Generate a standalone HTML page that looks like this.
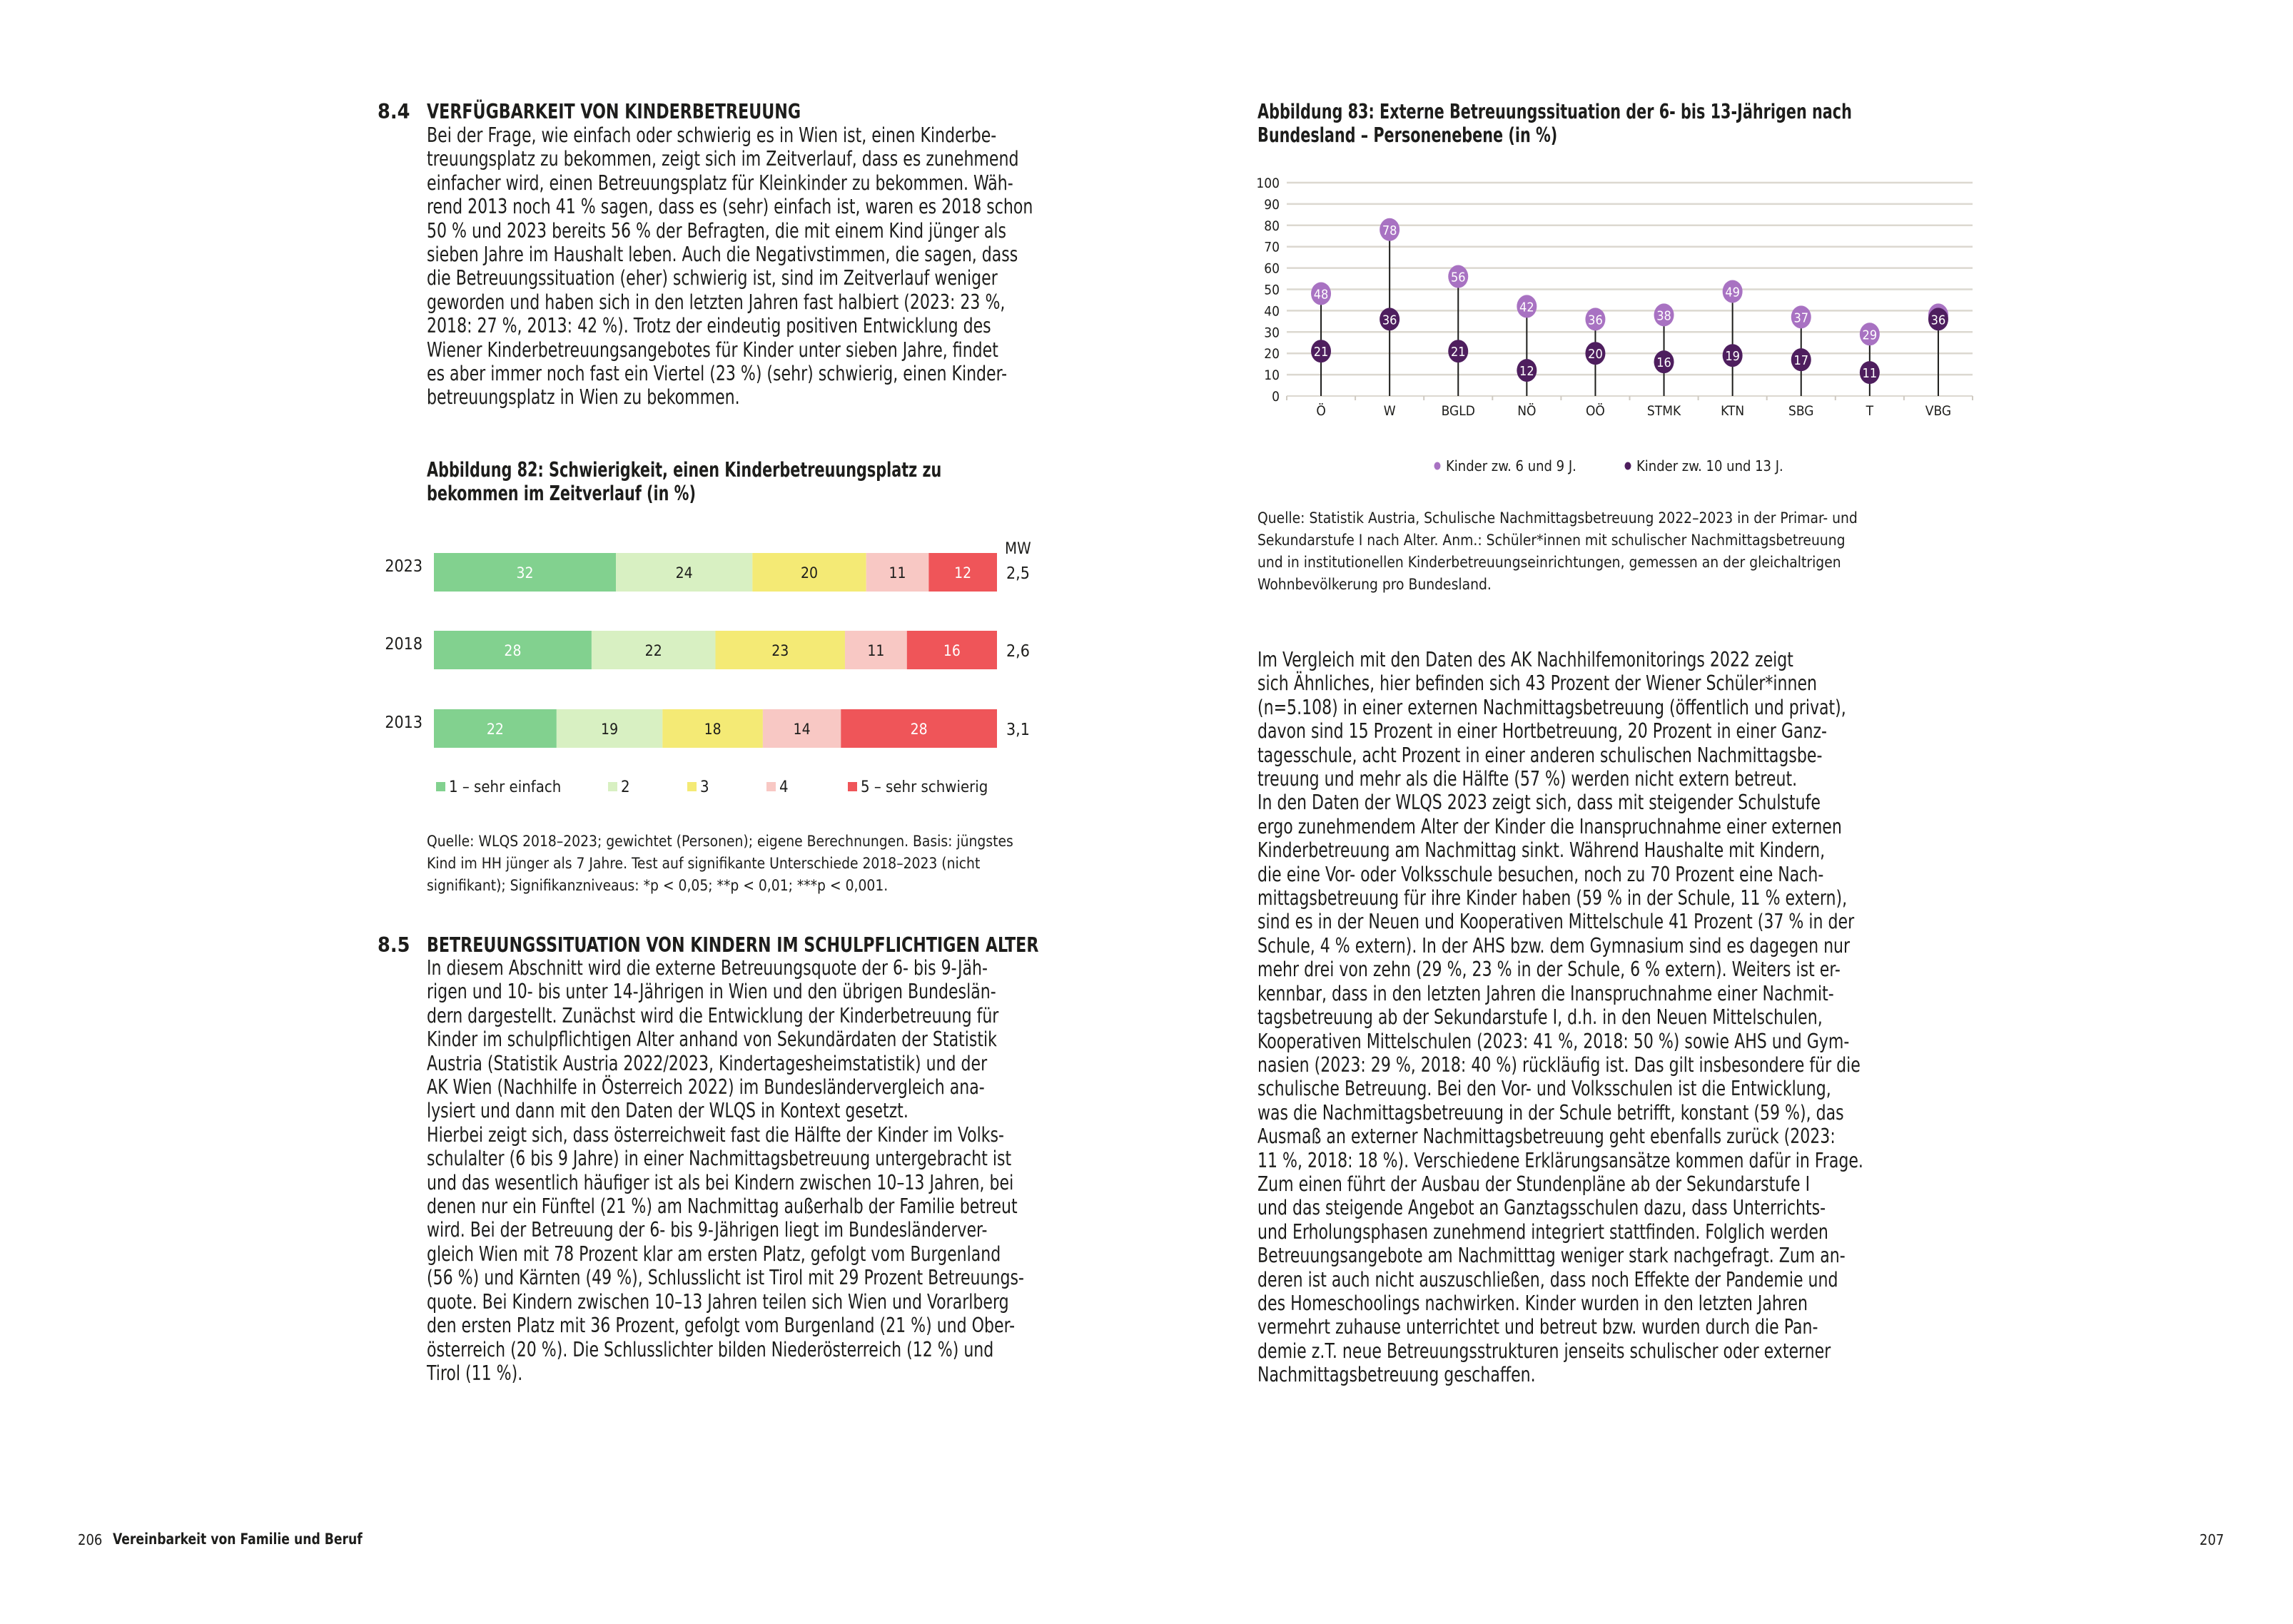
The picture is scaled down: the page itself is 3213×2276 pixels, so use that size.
<!DOCTYPE html>
<html><head><meta charset="utf-8">
<style>
html,body{margin:0;padding:0;background:#fff;}
#page{position:relative;width:3213px;height:2276px;overflow:hidden;background:#fff;font-family:"Liberation Sans Narrow","DejaVu Sans Condensed","Liberation Sans",sans-serif;color:#1d1d1b;}
.t{position:absolute;white-space:nowrap;transform-origin:0 0;}
.body{font-size:28.5px;line-height:33.4px;transform:scaleX(0.86);}
.body div{white-space:nowrap;}
.h{font-weight:bold;font-size:28.5px;}
.hs{transform:scaleX(0.865);}
.ft{transform:scaleX(0.81);}
.src{font-size:21.5px;line-height:31px;transform:scaleX(0.97);}
svg text{font-family:"Liberation Sans Narrow","DejaVu Sans Condensed","Liberation Sans",sans-serif;}
</style></head>
<body>
<div id="page">

<div class="t h" style="left:529px;top:140px;">8.4</div>
<div class="t h hs" style="left:598px;top:140px;">VERFÜGBARKEIT VON KINDERBETREUUNG</div>
<div class="t body" style="left:598px;top:173px;">
<div>Bei der Frage, wie einfach oder schwierig es in Wien ist, einen Kinderbe-</div>
<div>treuungsplatz zu bekommen, zeigt sich im Zeitverlauf, dass es zunehmend</div>
<div>einfacher wird, einen Betreuungsplatz für Kleinkinder zu bekommen. Wäh-</div>
<div>rend 2013 noch 41 % sagen, dass es (sehr) einfach ist, waren es 2018 schon</div>
<div>50 % und 2023 bereits 56 % der Befragten, die mit einem Kind jünger als</div>
<div>sieben Jahre im Haushalt leben. Auch die Negativstimmen, die sagen, dass</div>
<div>die Betreuungssituation (eher) schwierig ist, sind im Zeitverlauf weniger</div>
<div>geworden und haben sich in den letzten Jahren fast halbiert (2023: 23 %,</div>
<div>2018: 27 %, 2013: 42 %). Trotz der eindeutig positiven Entwicklung des</div>
<div>Wiener Kinderbetreuungsangebotes für Kinder unter sieben Jahre, findet</div>
<div>es aber immer noch fast ein Viertel (23 %) (sehr) schwierig, einen Kinder-</div>
<div>betreuungsplatz in Wien zu bekommen.</div>
</div>

<div class="t h ft" style="left:598px;top:642px;line-height:33px;">Abbildung 82: Schwierigkeit, einen Kinderbetreuungsplatz zu<br>bekommen im Zeitverlauf (in %)</div>

<div class="t src" style="left:598px;top:1164px;">Quelle: WLQS 2018–2023; gewichtet (Personen); eigene Berechnungen. Basis: jüngstes<br>Kind im HH jünger als 7 Jahre. Test auf signifikante Unterschiede 2018–2023 (nicht<br>signifikant); Signifikanzniveaus: *p &lt; 0,05; **p &lt; 0,01; ***p &lt; 0,001.</div>

<div class="t h" style="left:529px;top:1308px;">8.5</div>
<div class="t h hs" style="left:598px;top:1308px;">BETREUUNGSSITUATION VON KINDERN IM SCHULPFLICHTIGEN ALTER</div>
<div class="t body" style="left:598px;top:1340px;">
<div>In diesem Abschnitt wird die externe Betreuungsquote der 6- bis 9-Jäh-</div>
<div>rigen und 10- bis unter 14-Jährigen in Wien und den übrigen Bundeslän-</div>
<div>dern dargestellt. Zunächst wird die Entwicklung der Kinderbetreuung für</div>
<div>Kinder im schulpflichtigen Alter anhand von Sekundärdaten der Statistik</div>
<div>Austria (Statistik Austria 2022/2023, Kindertagesheimstatistik) und der</div>
<div>AK Wien (Nachhilfe in Österreich 2022) im Bundesländervergleich ana-</div>
<div>lysiert und dann mit den Daten der WLQS in Kontext gesetzt.</div>
<div>Hierbei zeigt sich, dass österreichweit fast die Hälfte der Kinder im Volks-</div>
<div>schulalter (6 bis 9 Jahre) in einer Nachmittagsbetreuung untergebracht ist</div>
<div>und das wesentlich häufiger ist als bei Kindern zwischen 10–13 Jahren, bei</div>
<div>denen nur ein Fünftel (21 %) am Nachmittag außerhalb der Familie betreut</div>
<div>wird. Bei der Betreuung der 6- bis 9-Jährigen liegt im Bundesländerver-</div>
<div>gleich Wien mit 78 Prozent klar am ersten Platz, gefolgt vom Burgenland</div>
<div>(56 %) und Kärnten (49 %), Schlusslicht ist Tirol mit 29 Prozent Betreuungs-</div>
<div>quote. Bei Kindern zwischen 10–13 Jahren teilen sich Wien und Vorarlberg</div>
<div>den ersten Platz mit 36 Prozent, gefolgt vom Burgenland (21 %) und Ober-</div>
<div>österreich (20 %). Die Schlusslichter bilden Niederösterreich (12 %) und</div>
<div>Tirol (11 %).</div>
</div>

<div class="t" style="left:109px;top:2146px;font-size:20px;">206</div>
<div class="t" style="left:158px;top:2145px;font-size:21px;font-weight:bold;transform:scaleX(0.91);">Vereinbarkeit von Familie und Beruf</div>
<div class="t" style="left:3082px;top:2146px;font-size:20px;">207</div>

<div class="t h ft" style="left:1762px;top:140px;line-height:33px;">Abbildung 83: Externe Betreuungssituation der 6- bis 13-Jährigen nach<br>Bundesland – Personenebene (in %)</div>

<div class="t src" style="left:1762px;top:711px;">Quelle: Statistik Austria, Schulische Nachmittagsbetreuung 2022–2023 in der Primar- und<br>Sekundarstufe I nach Alter. Anm.: Schüler*innen mit schulischer Nachmittagsbetreuung<br>und in institutionellen Kinderbetreuungseinrichtungen, gemessen an der gleichaltrigen<br>Wohnbevölkerung pro Bundesland.</div>

<div class="t body" style="left:1762px;top:908px;">
<div>Im Vergleich mit den Daten des AK Nachhilfemonitorings 2022 zeigt</div>
<div>sich Ähnliches, hier befinden sich 43 Prozent der Wiener Schüler*innen</div>
<div>(n=5.108) in einer externen Nachmittagsbetreuung (öffentlich und privat),</div>
<div>davon sind 15 Prozent in einer Hortbetreuung, 20 Prozent in einer Ganz-</div>
<div>tagesschule, acht Prozent in einer anderen schulischen Nachmittagsbe-</div>
<div>treuung und mehr als die Hälfte (57 %) werden nicht extern betreut.</div>
<div>In den Daten der WLQS 2023 zeigt sich, dass mit steigender Schulstufe</div>
<div>ergo zunehmendem Alter der Kinder die Inanspruchnahme einer externen</div>
<div>Kinderbetreuung am Nachmittag sinkt. Während Haushalte mit Kindern,</div>
<div>die eine Vor- oder Volksschule besuchen, noch zu 70 Prozent eine Nach-</div>
<div>mittagsbetreuung für ihre Kinder haben (59 % in der Schule, 11 % extern),</div>
<div>sind es in der Neuen und Kooperativen Mittelschule 41 Prozent (37 % in der</div>
<div>Schule, 4 % extern). In der AHS bzw. dem Gymnasium sind es dagegen nur</div>
<div>mehr drei von zehn (29 %, 23 % in der Schule, 6 % extern). Weiters ist er-</div>
<div>kennbar, dass in den letzten Jahren die Inanspruchnahme einer Nachmit-</div>
<div>tagsbetreuung ab der Sekundarstufe I, d.h. in den Neuen Mittelschulen,</div>
<div>Kooperativen Mittelschulen (2023: 41 %, 2018: 50 %) sowie AHS und Gym-</div>
<div>nasien (2023: 29 %, 2018: 40 %) rückläufig ist. Das gilt insbesondere für die</div>
<div>schulische Betreuung. Bei den Vor- und Volksschulen ist die Entwicklung,</div>
<div>was die Nachmittagsbetreuung in der Schule betrifft, konstant (59 %), das</div>
<div>Ausmaß an externer Nachmittagsbetreuung geht ebenfalls zurück (2023:</div>
<div>11 %, 2018: 18 %). Verschiedene Erklärungsansätze kommen dafür in Frage.</div>
<div>Zum einen führt der Ausbau der Stundenpläne ab der Sekundarstufe I</div>
<div>und das steigende Angebot an Ganztagsschulen dazu, dass Unterrichts-</div>
<div>und Erholungsphasen zunehmend integriert stattfinden. Folglich werden</div>
<div>Betreuungsangebote am Nachmitttag weniger stark nachgefragt. Zum an-</div>
<div>deren ist auch nicht auszuschließen, dass noch Effekte der Pandemie und</div>
<div>des Homeschoolings nachwirken. Kinder wurden in den letzten Jahren</div>
<div>vermehrt zuhause unterrichtet und betreut bzw. wurden durch die Pan-</div>
<div>demie z.T. neue Betreuungsstrukturen jenseits schulischer oder externer</div>
<div>Nachmittagsbetreuung geschaffen.</div>
</div>

<svg id="charts" width="3213" height="2276" style="position:absolute;left:0;top:0;"></svg>
</div>

<script>
// ---- Figure 82 data ----
const years = ["2023", "2018", "2013"];
const cat1 = [32, 28, 22];
const cat2 = [24, 22, 19];
const cat3 = [20, 23, 18];
const cat4 = [11, 11, 14];
const cat5 = [12, 16, 28];
const meanValues = ["2,5", "2,6", "3,1"];
const stackLabels = ["1 – sehr einfach", "2", "3", "4", "5 – sehr schwierig"];

// ---- Figure 83 data ----
const states = ["Ö", "W", "BGLD", "NÖ", "OÖ", "STMK", "KTN", "SBG", "T", "VBG"];
const kids6to9 = [48, 78, 56, 42, 36, 38, 49, 37, 29, 38];
const kids10to13 = [21, 36, 21, 12, 20, 16, 19, 17, 11, 36];
const yTicks = [0, 10, 20, 30, 40, 50, 60, 70, 80, 90, 100];
const seriesNames = ["Kinder zw. 6 und 9 J.", "Kinder zw. 10 und 13 J."];

const NS = "http://www.w3.org/2000/svg";
const svg = document.getElementById("charts");
function mk(tag, attrs, parent) {
  const e = document.createElementNS(NS, tag);
  for (const k in attrs) e.setAttribute(k, attrs[k]);
  (parent || svg).appendChild(e);
  return e;
}

// ===== Figure 82 =====
const g82 = mk("g", {});


const colors82 = ["#82d18f", "#d8f0c2", "#f4ea75", "#f8c8c4", "#ef5559"];
const txt82 = ["#ffffff", "#1d1d1b", "#1d1d1b", "#1d1d1b", "#ffffff"];
const bx0 = 608, bx1 = 1397;
const rowTop = [775, 884, 994], barH = 54;
function xScale82(v, total) { return bx0 + v / total * (bx1 - bx0); }
const series82 = [cat1, cat2, cat3, cat4, cat5];
const mw = mk("text", {x: 1408, y: 776, "font-size": 22, fill: "#1d1d1b"}, g82);
mw.textContent = "MW";


years.forEach((yr, i) => {
  const total = series82.reduce((s, a) => s + a[i], 0);
  let acc = 0;
  const yt = rowTop[i];
  const yl = mk("text", {x: 592, y: yt + 26, "font-size": 23, "text-anchor": "end", fill: "#1d1d1b"}, g82);
  yl.textContent = yr;
  
  
  series82.forEach((arr, s) => {
    const xa = xScale82(acc, total), xb = xScale82(acc + arr[i], total);
    const r = mk("rect", {x: xa, y: yt, width: xb - xa, height: barH, fill: colors82[s]}, g82);
    
    
    const t = mk("text", {x: (xa + xb) / 2, y: yt + barH / 2 + 8, "font-size": 21, "text-anchor": "middle", fill: txt82[s]}, g82);
    t.textContent = arr[i];
    
    
    acc += arr[i];
  });
  const m = mk("text", {x: 1410, y: yt + 36, "font-size": 23, fill: "#1d1d1b"}, g82);
  m.textContent = meanValues[i];
  
  
});
const legX82 = [611, 852, 963, 1074, 1188];
stackLabels.forEach((lab, s) => {
  const r = mk("rect", {x: legX82[s], y: 1096, width: 13, height: 13, fill: colors82[s]}, g82);
  
  
  const t = mk("text", {x: legX82[s] + 18, y: 1110, "font-size": 22, fill: "#1d1d1b"}, g82);
  t.textContent = lab;
  
  
});

// ===== Figure 83 =====
const g83 = mk("g", {});


const px0 = 1803, px1 = 2764, py0 = 555, py100 = 256;
function yScale(v) { return py0 + (py100 - py0) * v / 100; }
const band = (px1 - px0) / states.length;
function xScale(i) { return px0 + band * (i + 0.5); }
yTicks.forEach(v => {
  const l = mk("line", {x1: px0, x2: px1, y1: yScale(v), y2: yScale(v), stroke: "#dcd8d0", "stroke-width": v === 0 ? 2 : 2.5}, g83);
  
  
  const t = mk("text", {x: 1793, y: yScale(v) + 7, "font-size": 19, "text-anchor": "end", fill: "#1d1d1b"}, g83);
  t.textContent = v;
  
  
});
for (let i = 0; i <= states.length; i++) {
  const x = px0 + band * i;
  const tk = mk("line", {x1: x, x2: x, y1: py0, y2: py0 + 6, stroke: "#cfcac2", "stroke-width": 2}, g83);
  
  
}
states.forEach((st, i) => {
  const x = xScale(i);
  const top = Math.max(kids6to9[i], kids10to13[i]);
  const stem = mk("line", {x1: x, x2: x, y1: yScale(0), y2: yScale(top), stroke: "#1d1d1b", "stroke-width": 2}, g83);
  
  
  const t = mk("text", {x: x, y: 582, "font-size": 19, "text-anchor": "middle", fill: "#1d1d1b"}, g83);
  t.textContent = st;
  
  
});
function drawDots(arr, color, key) {
  arr.forEach((v, i) => {
    const x = xScale(i), y = yScale(v);
    const c = mk("ellipse", {cx: x, cy: y, rx: 14, ry: 16, fill: color}, g83);
    
    
    const t = mk("text", {x: x, y: y + 7, "font-size": 18, "text-anchor": "middle", fill: "#ffffff"}, g83);
    t.textContent = v;
    
    
  });
}
drawDots(kids6to9, "#a872c2", "6-9");
drawDots(kids10to13, "#4e1e5e", "10-13");
const legCols = ["#a872c2", "#4e1e5e"], legX83 = [2014, 2281];
seriesNames.forEach((n, s) => {
  const d = mk("ellipse", {cx: legX83[s], cy: 653, rx: 4.5, ry: 5.5, fill: legCols[s]}, g83);
  
  
  const t = mk("text", {x: legX83[s] + 12, y: 660, "font-size": 20, fill: "#1d1d1b"}, g83);
  t.textContent = n;
  
  
});
</script>
</body></html>
